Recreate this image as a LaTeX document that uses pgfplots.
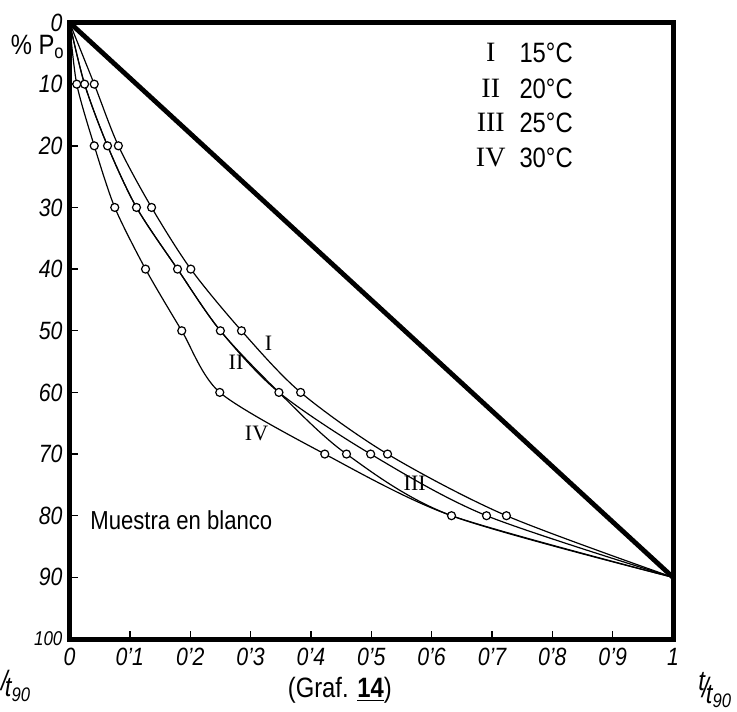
\documentclass[border=0pt]{standalone}
\usepackage{pgfplots}
\pgfplotsset{compat=1.18}
\usepackage{fontspec}
\setmainfont{Liberation Sans}[FakeStretch=0.85]
\newfontfamily\serif{Liberation Serif}
\begin{document}
\begin{tikzpicture}
\clip (-34.75pt,-36pt) rectangle (333.75pt,319.5pt);
\begin{axis}[
  at={(0,0)}, anchor=south west, scale only axis,
  width=301.75pt, height=308.25pt,
  xmin=0, xmax=1, ymin=0, ymax=100, y dir=reverse,
  axis line style={line width=2.5pt},
  xtick={0,0.1,0.2,0.3,0.4,0.5,0.6,0.7,0.8,0.9,1},
  xticklabels={0,0'1,0'2,0'3,0'4,0'5,0'6,0'7,0'8,0'9,1},
  ytick={0,10,20,30,40,50,60,70,80,90,100},
  yticklabels={0,10,20,30,40,50,60,70,80,90,{\fontsize{10}{12}\selectfont 100}},
  tick align=inside, xtick pos=left, ytick pos=left,
  major tick length=4pt,
  tick style={black, line width=0.7pt},
  xticklabel style={font=\itshape\fontsize{12.5}{14}\selectfont, yshift=-1pt},
  yticklabel style={font=\itshape\fontsize{12.5}{14}\selectfont},
  clip=false,
]
\addplot[black, line width=2.4pt] coordinates {(0,0) (1,90)};
% I 15C
\addplot[black, line width=0.6pt, smooth, tension=0.5] coordinates {(0,0) (0.041,10) (0.081,20) (0.136,30) (0.201,40) (0.285,50) (0.383,60) (0.527,70) (0.724,80) (1,90)};
% II 20C
\addplot[black, line width=0.6pt, smooth, tension=0.5] coordinates {(0,0) (0.025,10) (0.063,20) (0.111,30) (0.179,40) (0.250,50) (0.347,60) (0.499,70) (0.691,80) (1,90)};
% III 25C
\addplot[black, line width=0.6pt, smooth, tension=0.5] coordinates {(0,0) (0.025,10) (0.063,20) (0.111,30) (0.179,40) (0.250,50) (0.347,60) (0.459,70) (0.633,80) (1,90)};
% IV 30C
\addplot[black, line width=0.6pt, smooth, tension=0.45] coordinates {(0,0) (0.012,10) (0.041,20) (0.075,30) (0.126,40) (0.186,50) (0.249,60) (0.423,70) (0.633,80) (1,90)};
% markers
\addplot[only marks, mark=*, mark size=2pt, mark options={draw=black, fill=white, line width=0.6pt}] coordinates {
(0.041,10) (0.081,20) (0.136,30) (0.201,40) (0.285,50) (0.383,60) (0.527,70) (0.724,80)
(0.025,10) (0.063,20) (0.111,30) (0.179,40) (0.250,50) (0.347,60) (0.499,70) (0.691,80)
(0.459,70) (0.633,80)
(0.012,10) (0.041,20) (0.075,30) (0.126,40) (0.186,50) (0.249,60) (0.423,70)};
% curve labels
\node[font=\serif\fontsize{11}{12}\selectfont] at (axis cs:0.330,52.0) {I};
\node[font=\serif\fontsize{11}{12}\selectfont] at (axis cs:0.276,55.1) {II};
\node[font=\serif\fontsize{11}{12}\selectfont] at (axis cs:0.572,74.8) {III};
\node[font=\serif\fontsize{11}{12}\selectfont] at (axis cs:0.310,66.7) {IV};
% legend text
\node[font=\serif\fontsize{14}{16}\selectfont] at (axis cs:0.698,4.9) {I};
\node[font=\serif\fontsize{14}{16}\selectfont] at (axis cs:0.698,10.7) {II};
\node[font=\serif\fontsize{14}{16}\selectfont] at (axis cs:0.698,16.2) {III};
\node[font=\serif\fontsize{14}{16}\selectfont] at (axis cs:0.698,21.9) {IV};
\node[anchor=west, font=\fontsize{14}{16}\selectfont, inner sep=0pt] at (axis cs:0.745,4.9) {15°C};
\node[anchor=west, font=\fontsize{14}{16}\selectfont, inner sep=0pt] at (axis cs:0.745,10.7) {20°C};
\node[anchor=west, font=\fontsize{14}{16}\selectfont, inner sep=0pt] at (axis cs:0.745,16.2) {25°C};
\node[anchor=west, font=\fontsize{14}{16}\selectfont, inner sep=0pt] at (axis cs:0.745,21.9) {30°C};
% other text
\node[anchor=west, font=\fontsize{13}{15}\selectfont, inner sep=0pt] at (axis cs:0.034,80.7) {Muestra en blanco};
\node[anchor=west, font=\fontsize{14}{16}\selectfont, inner sep=0pt] at (axis cs:-0.098,4.0) {\% P\textsubscript{o}};
\node[font=\itshape\fontsize{14}{16}\selectfont] at (axis cs:1.07,108.3) {\raisebox{0.5ex}{t}\kern-0.1em/\kern-0.1em\raisebox{-0.4ex}{t\textsubscript{90}}};
\node[anchor=west, inner sep=0pt, font=\itshape\fontsize{14}{16}\selectfont] at (axis cs:-0.114,107.6) {/\kern-0.1em\raisebox{-0.4ex}{t\textsubscript{90}}};
\node[font=\fontsize{14}{16}\selectfont] at (axis cs:0.448,108.3) {(Graf. \textbf{\underline{14}})};
\end{axis}
\end{tikzpicture}
\end{document}
